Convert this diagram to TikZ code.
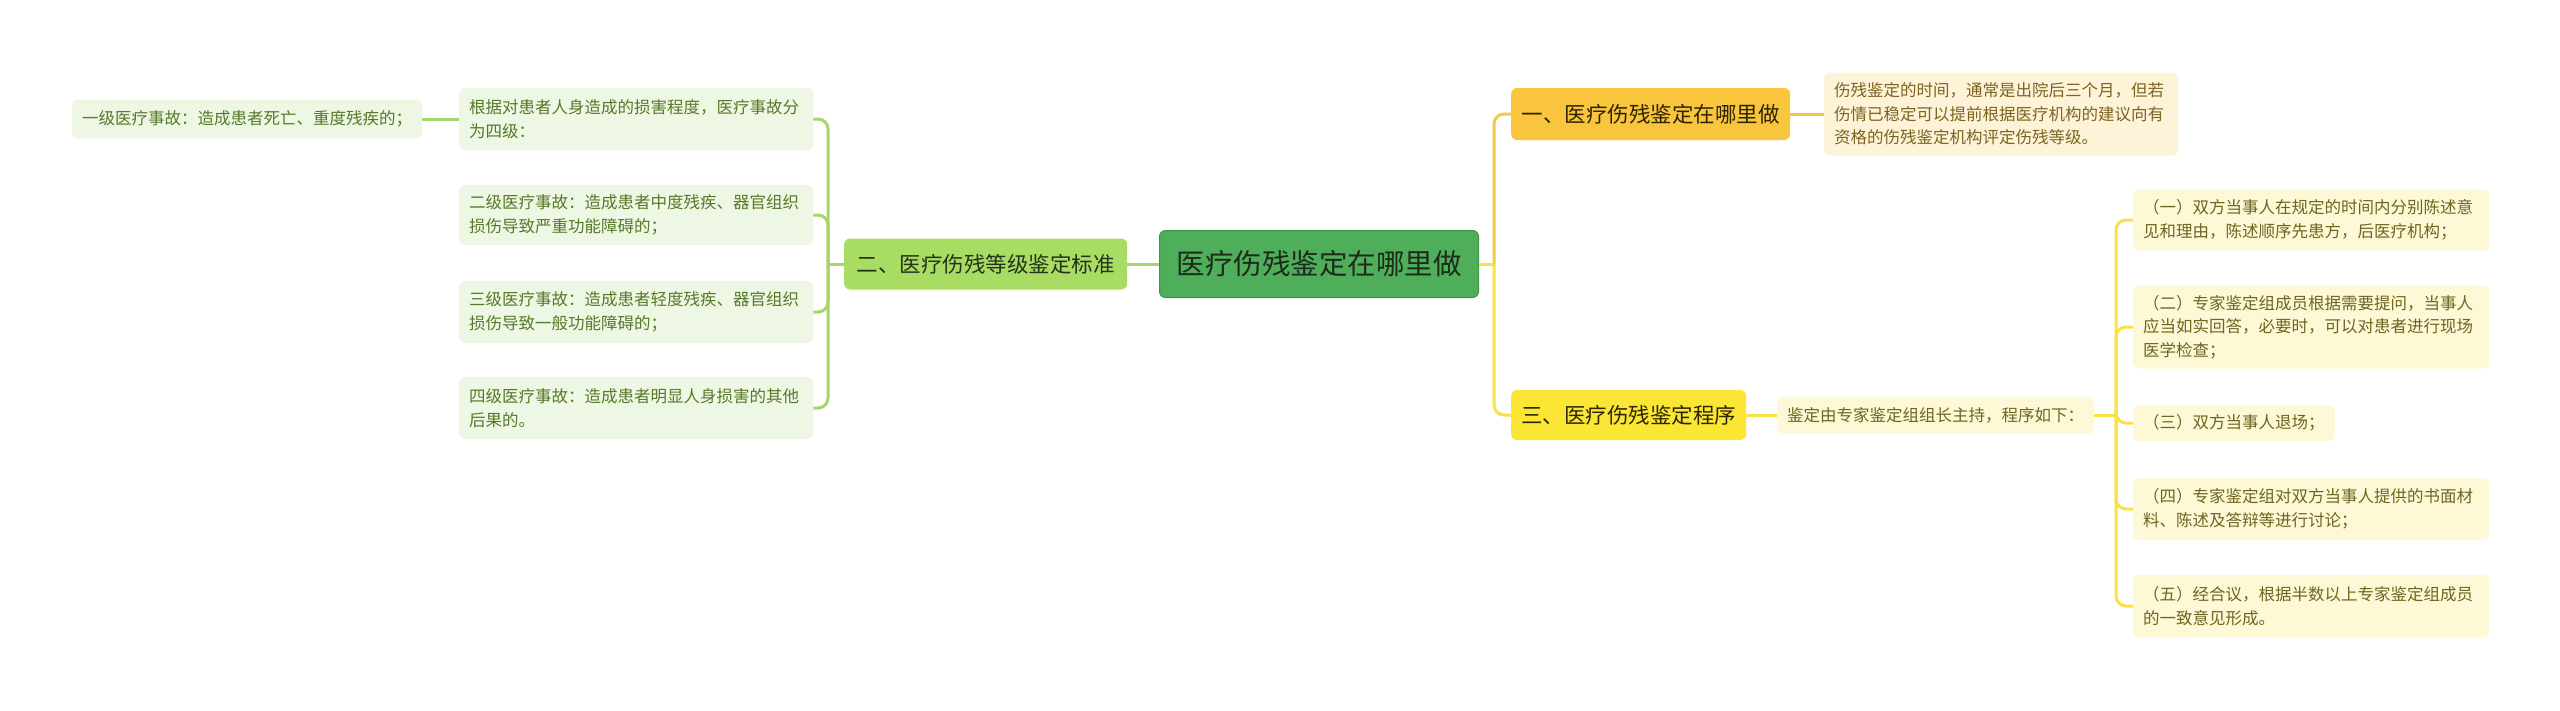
\documentclass[tikz,border=0pt]{standalone}
\usepackage{fontspec}
\newfontfamily\cjk{Noto Sans CJK SC}
\definecolor{rootfill}{HTML}{4FAE5A}
\definecolor{rootdraw}{HTML}{3E9447}
\definecolor{roottext}{HTML}{1D2B1D}
\definecolor{btwofill}{HTML}{A9DC63}
\definecolor{btwotext}{HTML}{25331A}
\definecolor{lgfill}{HTML}{EEF7E3}
\definecolor{lgtext}{HTML}{557A2A}
\definecolor{congreen}{HTML}{A5D66A}
\definecolor{bonefill}{HTML}{F8C53D}
\definecolor{bonetext}{HTML}{2E2300}
\definecolor{bonelfill}{HTML}{FDF3D8}
\definecolor{bonEltext}{HTML}{7D6420}
\definecolor{bthrfill}{HTML}{FBE635}
\definecolor{bthrtext}{HTML}{2B2600}
\definecolor{lyfill}{HTML}{FDF9D6}
\definecolor{lytext}{HTML}{6F6520}
\definecolor{conamber}{HTML}{F5C84A}
\definecolor{conyellow}{HTML}{F9E146}
\tikzset{
  boxbase/.style={rounded corners=6pt, inner ysep=0pt, align=left, anchor=west},
  leaffont/.style={font=\cjk\fontsize{16.5}{23.5}\selectfont},
  leafg/.style={boxbase, leaffont, fill=lgfill, text=lgtext, inner xsep=10pt},
  leafy/.style={boxbase, leaffont, fill=lyfill, text=lytext, inner xsep=10pt},
  branchbox/.style={boxbase, font=\cjk\fontsize{21.5}{26}\selectfont, inner xsep=0pt, align=center},
  conn/.style={line width=3pt, rounded corners=10pt},
}
\begin{document}
\begin{tikzpicture}[x=1pt,y=-1pt]
\useasboundingbox[fill=white] (0,0) rectangle (2560,710);

% root
\node[boxbase, align=center, fill=rootfill, draw=rootdraw, line width=1pt, text=roottext,
  font=\cjk\fontsize{28.5}{34}\selectfont, minimum width=319pt, minimum height=67pt, inner xsep=0pt] (root) at (1159,264) {医疗伤残鉴定在哪里做};

% branches
\node[branchbox, fill=btwofill, text=btwotext, minimum width=283pt, minimum height=51pt] (b2) at (844,264) {二、医疗伤残等级鉴定标准};
\node[branchbox, fill=bonefill, text=bonetext, minimum width=279pt, minimum height=52pt] (b1) at (1511,114) {一、医疗伤残鉴定在哪里做};
\node[branchbox, fill=bthrfill, text=bthrtext, minimum width=235pt, minimum height=50pt] (b3) at (1511,415) {三、医疗伤残鉴定程序};

% left leaves
\node[leafg, text width=334pt, minimum height=62pt] (l1) at (459,119) {根据对患者人身造成的损害程度，医疗事故分\\为四级：};
\node[leafg, text width=334pt, minimum height=60pt] (l2) at (459,215) {二级医疗事故：造成患者中度残疾、器官组织\\损伤导致严重功能障碍的；};
\node[leafg, text width=334pt, minimum height=62pt] (l3) at (459,312) {三级医疗事故：造成患者轻度残疾、器官组织\\损伤导致一般功能障碍的；};
\node[leafg, text width=334pt, minimum height=62pt] (l4) at (459,408) {四级医疗事故：造成患者明显人身损害的其他\\后果的。};
\node[leafg, minimum height=39pt] (l0) at (72,119) {一级医疗事故：造成患者死亡、重度残疾的；};

% branch 1 leaf
\node[boxbase, leaffont, fill=bonelfill, text=bonEltext, inner xsep=10pt, text width=334pt, minimum height=83pt] (b1l) at (1824,114) {伤残鉴定的时间，通常是出院后三个月，但若\\伤情已稳定可以提前根据医疗机构的建议向有\\资格的伤残鉴定机构评定伤残等级。};

% branch 3 leaf
\node[leafy, fill=lyfill, minimum height=37pt] (b3l) at (1777,415) {鉴定由专家鉴定组组长主持，程序如下：};

% right leaves
\node[leafy, text width=336pt, minimum height=61pt] (r1) at (2133,220) {（一）双方当事人在规定的时间内分别陈述意\\见和理由，陈述顺序先患方，后医疗机构；};
\node[leafy, text width=336pt, minimum height=83pt] (r2) at (2133,327) {（二）专家鉴定组成员根据需要提问，当事人\\应当如实回答，必要时，可以对患者进行现场\\医学检查；};
\node[leafy, minimum height=36pt] (r3) at (2133,423) {（三）双方当事人退场；};
\node[leafy, text width=336pt, minimum height=62pt] (r4) at (2133,509) {（四）专家鉴定组对双方当事人提供的书面材\\料、陈述及答辩等进行讨论；};
\node[leafy, text width=336pt, minimum height=62pt] (r5) at (2133,606) {（五）经合议，根据半数以上专家鉴定组成员\\的一致意见形成。};

% junction coordinates
\coordinate (jl) at (828,264);
\coordinate (jr) at (1494,264);
\coordinate (jr2) at (2116,415);

% connectors left
\begin{scope}[on background layer/.style={}]
\draw[conn, congreen] (root.west) -- (b2.east);
\draw[conn, congreen] (b2.west) -- (jl);
\draw[conn, congreen] (jl) |- (l1.east);
\draw[conn, congreen] (jl) |- (l2.east);
\draw[conn, congreen] (jl) |- (l3.east);
\draw[conn, congreen] (jl) |- (l4.east);
\draw[conn, congreen] (l1.west) -- (l0.east);

% connectors right
\draw[conn, conyellow] (root.east) -- (jr);
\draw[conn, conamber] (jr) |- (b1.west);
\draw[conn, conyellow] (jr) |- (b3.west);
\draw[conn, conamber] (b1.east) -- (b1l.west);
\draw[conn, conyellow] (b3.east) -- (b3l.west);
\draw[conn, conyellow] (b3l.east) -- (jr2);
\draw[conn, conyellow] (jr2) |- (r1.west);
\draw[conn, conyellow] (jr2) |- (r2.west);
\draw[conn, conyellow] (jr2) |- (r3.west);
\draw[conn, conyellow] (jr2) |- (r4.west);
\draw[conn, conyellow] (jr2) |- (r5.west);
\end{scope}
\end{tikzpicture}
\end{document}
